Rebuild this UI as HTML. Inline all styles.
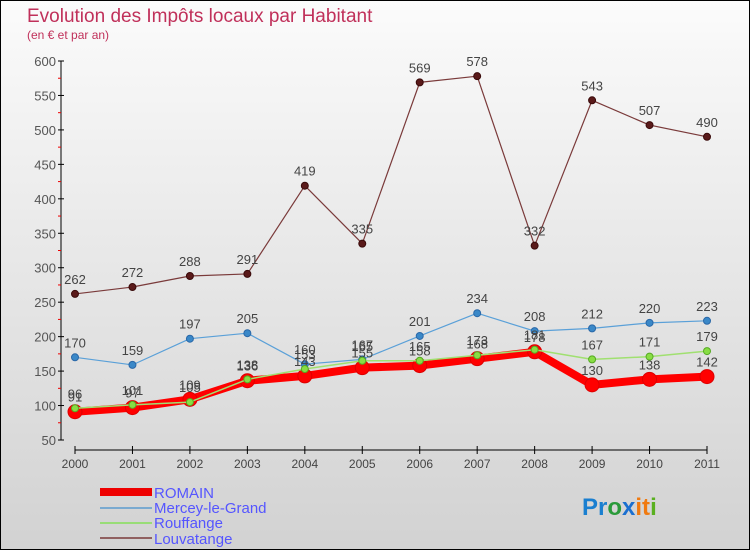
<!DOCTYPE html>
<html><head><meta charset="utf-8"><style>
body{margin:0}
#wrap{position:relative;width:748px;height:548px;border:1px solid #000;background:linear-gradient(#fbfbfb,#d2d2d2);font-family:"Liberation Sans",sans-serif;overflow:hidden}
</style></head><body>
<div id="wrap">
<svg id="svg" width="750" height="550" style="position:absolute;left:-1px;top:-1px">
<text x="27" y="22" font-size="19" fill="#c0305a">Evolution des Impôts locaux par Habitant</text>
<text x="27" y="39" font-size="12" fill="#c0305a">(en € et par an)</text>
<g id="axes"></g><g id="series"></g>
<g>
<rect x="100" y="488" width="52" height="8" fill="#e00"/>
<line x1="100" y1="508" x2="152" y2="508" stroke="#7aaad0" stroke-width="2"/>
<line x1="100" y1="523" x2="152" y2="523" stroke="#99dd77" stroke-width="2"/>
<line x1="100" y1="538" x2="152" y2="538" stroke="#906060" stroke-width="2"/>
<g font-size="15" fill="#5555ff">
<text x="154" y="498">ROMAIN</text>
<text x="154" y="513">Mercey-le-Grand</text>
<text x="154" y="528">Rouffange</text>
<text x="154" y="544">Louvatange</text>
</g></g>
<g font-size="24" font-weight="bold">
<text x="582" y="515"><tspan fill="#1a7fd0">Pr</tspan><tspan fill="#2a9a3a">o</tspan><tspan fill="#1a6fd0">x</tspan><tspan fill="#f07a10">it</tspan><tspan fill="#5ab020">i</tspan></text>
</g>
</svg>
</div>
<script>
const years=["2000","2001","2002","2003","2004","2005","2006","2007","2008","2009","2010","2011"];
const yTicks=[50,100,150,200,250,300,350,400,450,500,550,600];
const romain=[91,97,109,136,143,155,158,168,178,130,138,142];
const mercey=[170,159,197,205,160,167,201,234,208,212,220,223];
const rouffange=[96,101,105,138,153,165,165,173,181,167,171,179];
const louvatange=[262,272,288,291,419,335,569,578,332,543,507,490];
const NS="http://www.w3.org/2000/svg";
const X=i=>75+i*(707-75)/11;
const Y=v=>440-(v-50)*(440-61)/550;
function mk(t,a,p){const e=document.createElementNS(NS,t);for(const k in a)e.setAttribute(k,a[k]);p.appendChild(e);return e;}
const ax=document.getElementById('axes');
const yl=mk('line',{x1:61,y1:61,x2:61,y2:440,stroke:'#000'},ax);


yTicks.forEach(v=>{mk('line',{x1:58,y1:Y(v),x2:64,y2:Y(v),stroke:'#000'},ax);
 if(v<600)mk('line',{x1:58,y1:Y(v+25),x2:61,y2:Y(v+25),stroke:'#e00'},ax);
 const t=mk('text',{x:56,y:Y(v)+5,'font-size':13,fill:'#555','text-anchor':'end'},ax);t.textContent=v;
 
 });
const xl=mk('line',{x1:75,y1:450,x2:707,y2:450,stroke:'#000'},ax);


years.forEach((y,i)=>{mk('line',{x1:X(i),y1:446,x2:X(i),y2:454,stroke:'#000'},ax);
 const t=mk('text',{x:X(i),y:468,'font-size':12,fill:'#444','text-anchor':'middle'},ax);t.textContent=y;
 
 });
const sg=document.getElementById('series');
function series(data,name,color,w,r,mfill,mstroke){
 const g=mk('g',{},sg);
 
 
 mk('polyline',{points:data.map((v,i)=>X(i)+','+Y(v)).join(' '),fill:'none',stroke:color,'stroke-width':w,'stroke-linejoin':'round'},g);
 data.forEach((v,i)=>{const c=mk('circle',{cx:X(i),cy:Y(v),r:r,fill:mfill,stroke:mstroke,'stroke-width':1},g);
  
  
  const t=mk('text',{x:X(i),y:Y(v)-10,'font-size':13,fill:'#444','text-anchor':'middle'},g);t.textContent=v;
  
  });
}
series(louvatange,'louvatange','#7a3a3a',1.2,3.5,'#5a1a1a','#3a0a0a');
series(mercey,'mercey','#5aa0d8',1.2,3.5,'#3a88c8','#2a68a8');
series(romain,'romain','#f00',8,7,'#f00','#d00');
series(rouffange,'rouffange','#a0e070',1.5,3.5,'#88dd44','#55aa22');
</script>
</body></html>
